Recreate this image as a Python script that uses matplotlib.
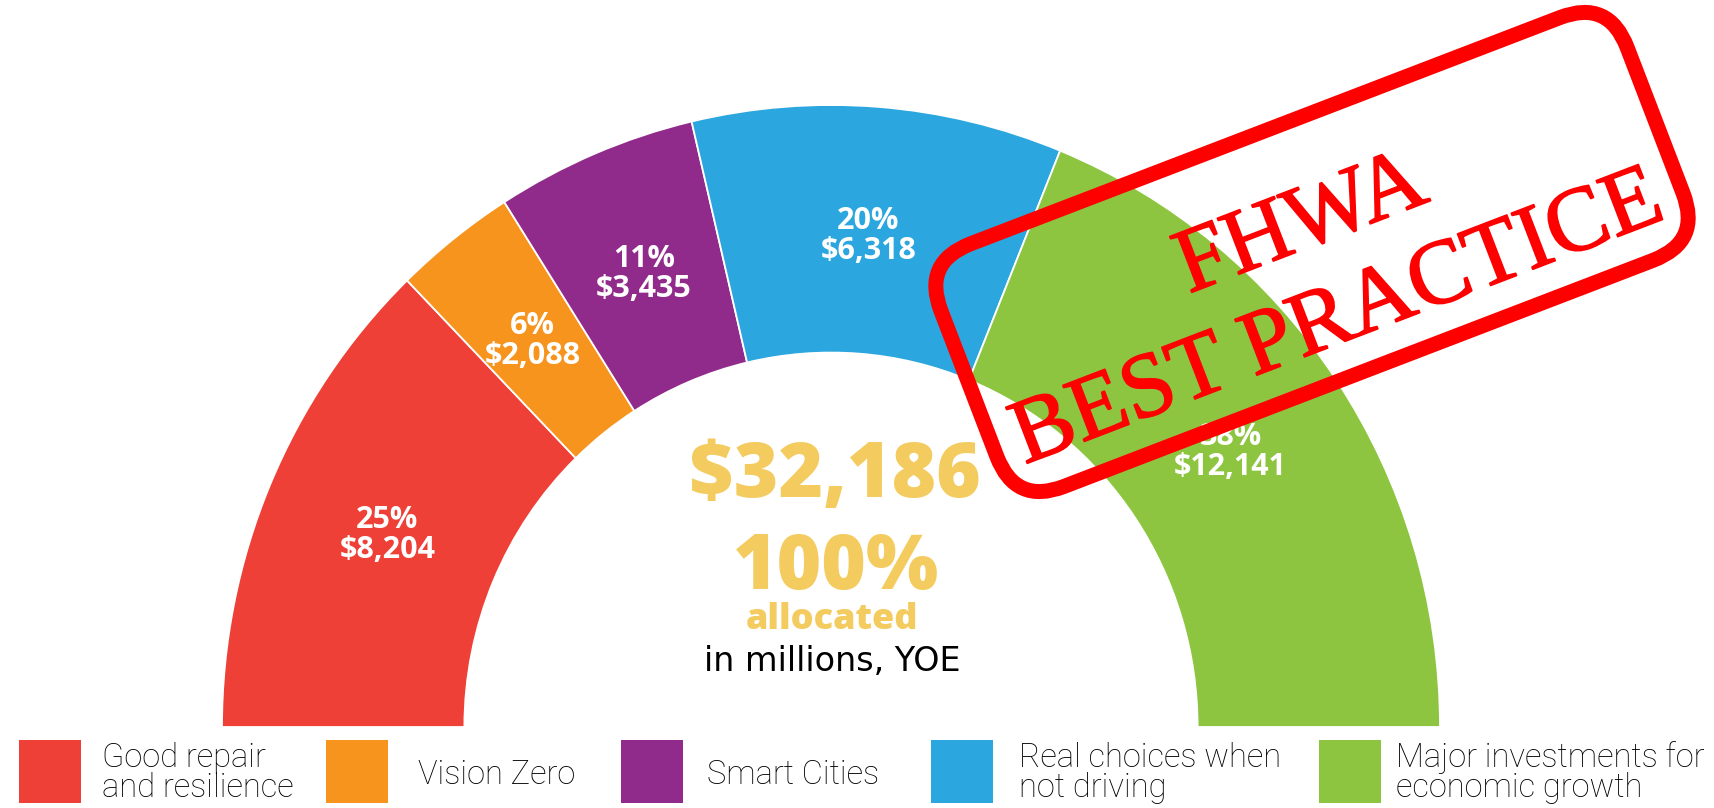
import numpy as np
import matplotlib
matplotlib.use("Agg")
import matplotlib.pyplot as plt
import matplotlib.patheffects as pe
from matplotlib.patches import Rectangle, FancyBboxPatch
from matplotlib.transforms import Affine2D

# ---- data ----
categories = ["Good repair\nand resilience", "Vision Zero", "Smart Cities",
              "Real choices when\nnot driving", "Major investments for\neconomic growth"]
values = [8204, 2088, 3435, 6318, 12141]          # millions, YOE
colors = ["#EE4036", "#F7941D", "#912B8B", "#2BA6DE", "#8DC540"]
total_label = "$32,186"
center_pct = "100%"
center_word = "allocated"
center_note = "in millions, YOE"
stamp_lines = ["FHWA", "BEST PRACTICE"]

W, H = 1714, 808
fig = plt.figure(figsize=(W / 100, H / 100), dpi=100)
fig.patch.set_facecolor("white")

# ---- half donut ----
cx, cy = 831, 727          # centre in pixel coords (y down)
rx, ry = 609, 622          # outer radii in px
inner = 0.602
ax = fig.add_axes([(cx - rx) / W, ((H - cy) - ry) / H, 2 * rx / W, 2 * ry / H])
total = sum(values)
fracs = [v / total / 2 for v in values]
wedges, _ = ax.pie(fracs, normalize=False, startangle=180, counterclock=False,
                   colors=colors, radius=1.0,
                   wedgeprops=dict(width=1 - inner, edgecolor="white", linewidth=1.3))
ax.set_aspect("auto")
ax.set_xlim(-1, 1)
ax.set_ylim(-1, 1)
ax.axis("off")

lab_font = dict(ha="center", va="center", color="white", fontsize=22,
                fontweight="bold", family=["Open Sans", "DejaVu Sans"])
cum = np.cumsum([0] + values)
rlab = (1 + inner) / 2 - 0.01
for i, v in enumerate(values):
    mid = 180 - 180 * (cum[i] + v / 2) / total
    x = rlab * np.cos(np.radians(mid))
    y = rlab * np.sin(np.radians(mid))
    pct = round(100 * v / total)
    ax.annotate(f"{pct}%", (x, y), xytext=(0, 10.8), textcoords="offset points", **lab_font)
    ax.annotate(f"${v:,}", (x, y), xytext=(0, -10.8), textcoords="offset points", **lab_font)

# ---- overlay (pixel coords, y down) ----
ov = fig.add_axes([0, 0, 1, 1])
ov.set_xlim(0, W)
ov.set_ylim(H, 0)
ov.axis("off")
ov.patch.set_alpha(0)

gold = "#F4CB5E"
big = ["Open Sans", "DejaVu Sans"]
ov.text(835, 497, total_label, ha="center", va="baseline", fontsize=55,
        fontweight="heavy", family=big, color=gold)
ov.text(836, 589, center_pct, ha="center", va="baseline", fontsize=55,
        fontweight="heavy", family=big, color=gold)
ov.text(832, 629, center_word, ha="center", va="baseline", fontsize=26,
        fontweight="heavy", family=big, color=gold)
ov.text(832, 671, center_note, ha="center", va="baseline", fontsize=24,
        family="DejaVu Sans", color="black")

# ---- legend ----
sq_x = [19, 326, 621, 931, 1319]
tx_x = [102, 418, 707, 1019, 1396]
leg_font = dict(ha="left", va="baseline", fontsize=23.5, fontweight="light",
                family="Roboto", color="black")
for i, lab in enumerate(categories):
    ov.add_patch(Rectangle((sq_x[i], 740), 62, 63, facecolor=colors[i], edgecolor="none"))
    lines = lab.split("\n")
    if len(lines) == 2:
        ov.text(tx_x[i], 767, lines[0], **leg_font)
        ov.text(tx_x[i], 797, lines[1], **leg_font)
    else:
        ov.text(tx_x[i], 784, lines[0], **leg_font)

# ---- stamp ----
scx, scy = 1312, 252
sw, sh = 735, 260
ang = 21
dcx, dcy = ov.transData.transform((scx, scy))
rot = Affine2D().rotate_deg_around(dcx, dcy, ang)
box = FancyBboxPatch((scx - sw / 2, scy - sh / 2), sw, sh,
                     boxstyle="round,pad=0,rounding_size=52",
                     facecolor="none", edgecolor="#FF0000", linewidth=10.8,
                     transform=ov.transData + rot, zorder=10)
ov.add_patch(box)
stroke = [pe.withStroke(linewidth=1.2, foreground="#FF0000")]
ov.text(1310, 247, stamp_lines[0], ha="center", va="baseline", rotation=ang,
        rotation_mode="anchor", fontsize=66, family="Liberation Serif",
        color="#FF0000", zorder=11, path_effects=stroke)
ov.text(1346, 341, stamp_lines[1], ha="center", va="baseline", rotation=ang,
        rotation_mode="anchor", fontsize=66, family="Liberation Serif",
        color="#FF0000", zorder=11, path_effects=stroke)

fig.savefig("out.png", dpi=100, facecolor="white")
